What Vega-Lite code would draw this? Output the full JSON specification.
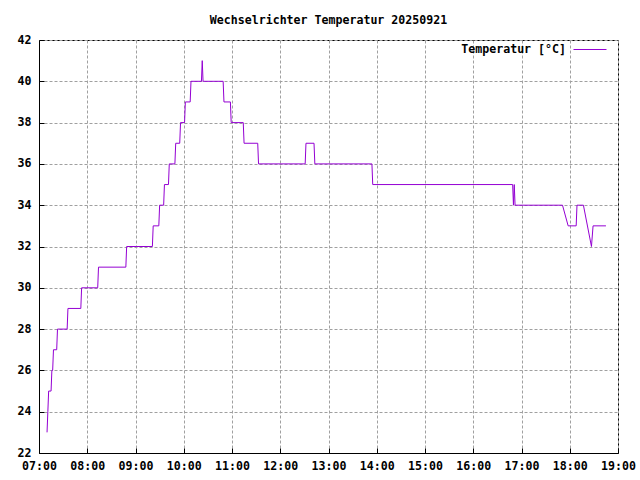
{
  "$schema": "https://vega.github.io/schema/vega-lite/v6.json",
  "width": 579,
  "height": 413,
  "autosize": "none",
  "padding": {"left": 39, "top": 40, "right": 22, "bottom": 27},
  "background": "white",
  "title": {
    "text": "Wechselrichter Temperatur 20250921",
    "font": "DejaVu Sans Mono",
    "fontSize": 11.6,
    "fontWeight": "bold",
    "color": "black",
    "anchor": "middle",
    "offset": 6
  },
  "config": {
    "view": {"stroke": "black", "strokeWidth": 1},
    "axis": {
      "domainColor": "black",
      "tickColor": "black",
      "labelColor": "black",
      "labelFont": "DejaVu Sans Mono",
      "labelFontSize": 11.6,
      "labelFontWeight": "bold",
      "gridColor": "#a0a0a0",
      "gridDash": [3, 2],
      "gridWidth": 1
    }
  },
  "data": {
    "values": [
      {"t": "2025-09-21T07:10:00", "temp": 23},
      {"t": "2025-09-21T07:11:00", "temp": 24},
      {"t": "2025-09-21T07:12:00", "temp": 25},
      {"t": "2025-09-21T07:15:00", "temp": 25},
      {"t": "2025-09-21T07:16:00", "temp": 26},
      {"t": "2025-09-21T07:17:00", "temp": 26},
      {"t": "2025-09-21T07:18:00", "temp": 27},
      {"t": "2025-09-21T07:22:00", "temp": 27},
      {"t": "2025-09-21T07:23:00", "temp": 28},
      {"t": "2025-09-21T07:35:00", "temp": 28},
      {"t": "2025-09-21T07:36:00", "temp": 29},
      {"t": "2025-09-21T07:52:00", "temp": 29},
      {"t": "2025-09-21T07:53:00", "temp": 30},
      {"t": "2025-09-21T08:13:00", "temp": 30},
      {"t": "2025-09-21T08:14:00", "temp": 31},
      {"t": "2025-09-21T08:48:00", "temp": 31},
      {"t": "2025-09-21T08:49:00", "temp": 32},
      {"t": "2025-09-21T09:21:00", "temp": 32},
      {"t": "2025-09-21T09:22:00", "temp": 33},
      {"t": "2025-09-21T09:29:00", "temp": 33},
      {"t": "2025-09-21T09:30:00", "temp": 34},
      {"t": "2025-09-21T09:35:00", "temp": 34},
      {"t": "2025-09-21T09:36:00", "temp": 35},
      {"t": "2025-09-21T09:41:00", "temp": 35},
      {"t": "2025-09-21T09:42:00", "temp": 36},
      {"t": "2025-09-21T09:49:00", "temp": 36},
      {"t": "2025-09-21T09:50:00", "temp": 37},
      {"t": "2025-09-21T09:55:00", "temp": 37},
      {"t": "2025-09-21T09:56:00", "temp": 38},
      {"t": "2025-09-21T10:01:00", "temp": 38},
      {"t": "2025-09-21T10:02:00", "temp": 39},
      {"t": "2025-09-21T10:08:00", "temp": 39},
      {"t": "2025-09-21T10:09:00", "temp": 40},
      {"t": "2025-09-21T10:22:00", "temp": 40},
      {"t": "2025-09-21T10:23:00", "temp": 41},
      {"t": "2025-09-21T10:24:00", "temp": 40},
      {"t": "2025-09-21T10:49:00", "temp": 40},
      {"t": "2025-09-21T10:50:00", "temp": 39},
      {"t": "2025-09-21T10:58:00", "temp": 39},
      {"t": "2025-09-21T10:59:00", "temp": 38},
      {"t": "2025-09-21T11:14:00", "temp": 38},
      {"t": "2025-09-21T11:15:00", "temp": 37},
      {"t": "2025-09-21T11:32:00", "temp": 37},
      {"t": "2025-09-21T11:33:00", "temp": 36},
      {"t": "2025-09-21T12:31:00", "temp": 36},
      {"t": "2025-09-21T12:32:00", "temp": 37},
      {"t": "2025-09-21T12:42:00", "temp": 37},
      {"t": "2025-09-21T12:43:00", "temp": 36},
      {"t": "2025-09-21T13:54:00", "temp": 36},
      {"t": "2025-09-21T13:55:00", "temp": 35},
      {"t": "2025-09-21T16:49:00", "temp": 35},
      {"t": "2025-09-21T16:50:00", "temp": 34},
      {"t": "2025-09-21T16:51:00", "temp": 35},
      {"t": "2025-09-21T16:52:00", "temp": 34},
      {"t": "2025-09-21T17:51:00", "temp": 34},
      {"t": "2025-09-21T17:58:00", "temp": 33},
      {"t": "2025-09-21T18:08:00", "temp": 33},
      {"t": "2025-09-21T18:09:00", "temp": 34},
      {"t": "2025-09-21T18:17:00", "temp": 34},
      {"t": "2025-09-21T18:27:00", "temp": 32},
      {"t": "2025-09-21T18:29:00", "temp": 33},
      {"t": "2025-09-21T18:45:00", "temp": 33}
    ]
  },
  "mark": {"type": "line", "strokeWidth": 1},
  "encoding": {
    "x": {
      "field": "t",
      "type": "temporal",
      "scale": {
        "domain": [
          {"year": 2025, "month": 9, "date": 21, "hours": 7},
          {"year": 2025, "month": 9, "date": 21, "hours": 19}
        ]
      },
      "axis": {
        "title": null,
        "format": "%H:%M",
        "tickCount": 12,
        "tickSize": -5,
        "labelPadding": 12,
        "labelOverlap": false,
        "labelFlush": false,
        "grid": true
      }
    },
    "y": {
      "field": "temp",
      "type": "quantitative",
      "scale": {"domain": [22, 42]},
      "axis": {
        "title": null,
        "values": [22, 24, 26, 28, 30, 32, 34, 36, 38, 40, 42],
        "tickSize": -5,
        "labelPadding": 13,
        "grid": true
      }
    },
    "color": {
      "datum": "Temperatur [°C]",
      "scale": {"range": ["#9400d3"]},
      "legend": {
        "title": null,
        "orient": "none",
        "legendX": 534,
        "legendY": -7.5,
        "padding": 0,
        "symbolType": "stroke",
        "symbolSize": 1089,
        "symbolStrokeWidth": 1,
        "labelFont": "DejaVu Sans Mono",
        "labelFontSize": 11.6,
        "labelFontWeight": "bold",
        "labelColor": "black",
        "labelAlign": "right",
        "labelOffset": -41,
        "labelLimit": 300
      }
    }
  }
}
